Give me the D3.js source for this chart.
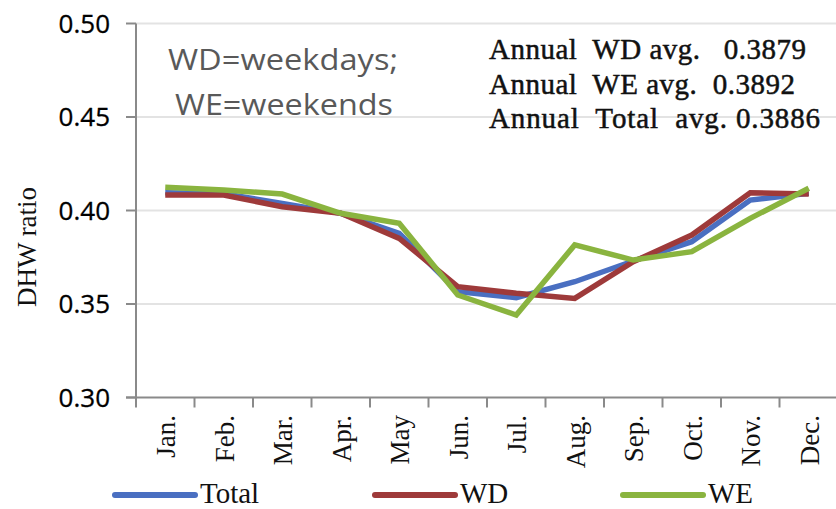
<!DOCTYPE html>
<meta charset="utf-8">
<style>
body { margin: 0; background: #fff; }
.grid line { stroke: #e3e3e3; stroke-width: 2px; }
.axis-line { stroke: #8a8a8a; stroke-width: 2px; }
.line { fill: none; stroke-width: 5.5px; stroke-linejoin: miter; }
.serif { font-family: "Liberation Serif", "Times New Roman", serif; fill: #111; }
.sans { font-family: "Open Sans", "Liberation Sans", sans-serif; }
</style>
<body>
<script src="https://d3js.org/d3.v7.min.js"></script>
<script>

// data
var months = ["Jan.", "Feb.", "Mar.", "Apr.", "May", "Jun.", "Jul.", "Aug.", "Sep.", "Oct.", "Nov.", "Dec."];
var total = [0.4095, 0.4090, 0.4038, 0.3985, 0.3878, 0.3566, 0.3534, 0.3619, 0.3730, 0.3833, 0.4056, 0.4092];
var wd    = [0.4083, 0.4083, 0.4020, 0.3985, 0.3851, 0.3593, 0.3557, 0.3530, 0.3726, 0.3869, 0.4095, 0.4088];
var we    = [0.4124, 0.4110, 0.4088, 0.3985, 0.3932, 0.3548, 0.3441, 0.3816, 0.3735, 0.3780, 0.3958, 0.4119];
var yTicks = [0.30, 0.35, 0.40, 0.45, 0.50];
var seriesNames = ["Total", "WD", "WE"];
var colors = ["#4a6fc1", "#9e3a3a", "#8ab43f"];
var notes = ["Annual  WD avg.   0.3879", "Annual  WE avg.  0.3892", "Annual  Total  avg. 0.3886"];

var width = 836, height = 509;
var plotLeft = 136, plotRight = 838, plotTop = 23.5, plotBottom = 397.5;

var svg = d3.select("body").append("svg")
    .attr("width", width)
    .attr("height", height);

var x = d3.scaleBand().domain(months).range([plotLeft, plotRight]).padding(0);
var y = d3.scaleLinear().domain([0.30, 0.50]).range([plotBottom, plotTop]);

// gridlines
svg.append("g").attr("class", "grid")
  .selectAll("line")
  .data(yTicks.slice(1))
  .enter().append("line")
    .attr("x1", plotLeft).attr("x2", width)
    .attr("y1", function(d) { return y(d); })
    .attr("y2", function(d) { return y(d); });

// y axis
svg.append("line").attr("class", "axis-line")
    .attr("x1", plotLeft).attr("x2", plotLeft).attr("y1", plotTop).attr("y2", plotBottom + 10);
svg.selectAll(".ytick")
  .data(yTicks)
  .enter().append("line").attr("class", "axis-line")
    .attr("x1", plotLeft - 10).attr("x2", plotLeft)
    .attr("y1", function(d) { return y(d); })
    .attr("y2", function(d) { return y(d); });
svg.selectAll(".ylab")
  .data(yTicks)
  .enter().append("text").attr("class", "sans")
    .attr("x", 110)
    .attr("y", function(d) { return y(d); })
    .attr("dy", "0.36em")
    .attr("text-anchor", "end")
    .style("font-size", "26px")
    .style("fill", "#000")
    .style("stroke", "#000").style("stroke-width", "0.3px")
    .text(function(d) { return d.toFixed(2); });

// x axis
svg.append("line").attr("class", "axis-line")
    .attr("x1", plotLeft - 10).attr("x2", width).attr("y1", plotBottom).attr("y2", plotBottom);
svg.selectAll(".xtick")
  .data(months)
  .enter().append("line").attr("class", "axis-line")
    .attr("x1", function(d) { return x(d) + x.bandwidth(); })
    .attr("x2", function(d) { return x(d) + x.bandwidth(); })
    .attr("y1", plotBottom).attr("y2", plotBottom + 10);
svg.selectAll(".xlab")
  .data(months)
  .enter().append("text").attr("class", "serif")
    .attr("transform", function(d) {
      return "translate(" + (x(d) + x.bandwidth() / 2 + 10) + "," + 415 + ") rotate(-90)";
    })
    .attr("text-anchor", "end")
    .style("font-size", "27px")
    .text(function(d) { return d; });

// y label
svg.append("text").attr("class", "serif")
    .attr("transform", "translate(36," + 247 + ") rotate(-90)")
    .attr("text-anchor", "middle")
    .style("font-size", "27px")
    .text("DHW ratio");

// lines
var line = d3.line()
    .x(function(d, i) { return x(months[i]) + x.bandwidth() / 2; })
    .y(function(d) { return y(d); });

[total, wd, we].forEach(function(s, i) {
  svg.append("path")
      .datum(s)
      .attr("class", "line")
      .style("stroke", colors[i])
      .attr("d", line);
});

// annotations
svg.append("text").attr("class", "sans")
    .attr("x", 168).attr("y", 70)
    .attr("textLength", 230).attr("lengthAdjust", "spacingAndGlyphs")
    .style("font-size", "30px").style("fill", "#595959")
    .text("WD=weekdays;");
svg.append("text").attr("class", "sans")
    .attr("x", 175).attr("y", 115)
    .attr("textLength", 218).attr("lengthAdjust", "spacingAndGlyphs")
    .style("font-size", "30px").style("fill", "#595959")
    .text("WE=weekends");

var noteEnds = [806, 795, 820];
svg.selectAll(".note")
  .data(notes)
  .enter().append("text").attr("class", "serif")
    .attr("x", 489)
    .attr("y", function(d, i) { return 59 + i * 34.5; })
    .attr("textLength", function(d, i) { return noteEnds[i] - 489; })
    .attr("lengthAdjust", "spacing")
    .style("white-space", "pre")
    .style("font-size", "29px")
    .style("stroke", "#111").style("stroke-width", "0.5px")
    .text(function(d) { return d; });

// legend
var legX = [115, 375, 623];
seriesNames.forEach(function(n, i) {
  svg.append("line")
      .attr("x1", legX[i]).attr("x2", legX[i] + 80)
      .attr("y1", 495).attr("y2", 495)
      .style("stroke", colors[i])
      .style("stroke-width", "6px")
      .style("stroke-linecap", "round");
  svg.append("text").attr("class", "serif")
      .attr("x", legX[i] + 85).attr("y", 503)
      .style("font-size", "29px")
      .text(n);
});

</script>
</body>
